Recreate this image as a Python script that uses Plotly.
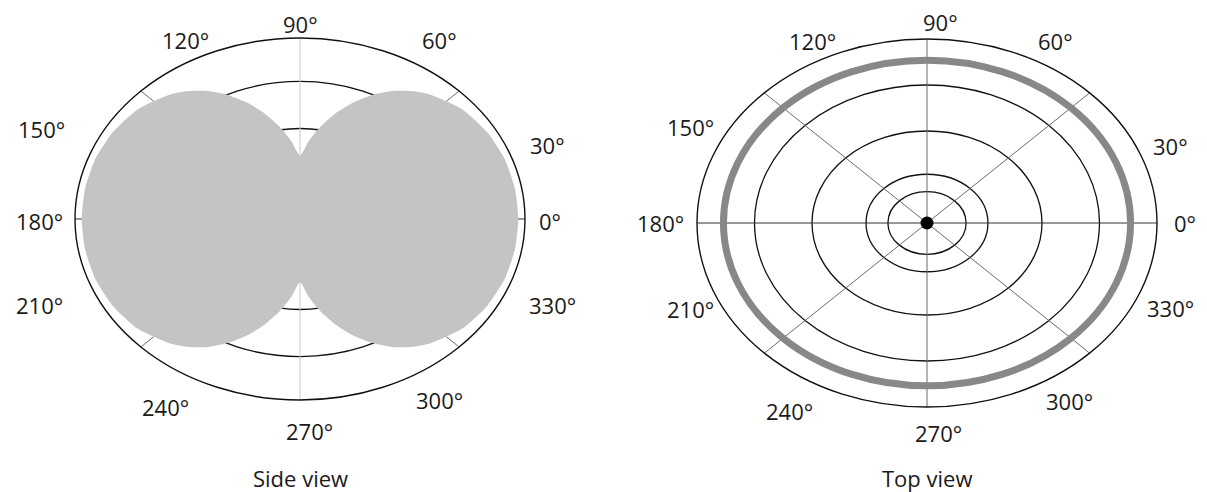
import numpy as np
import plotly.graph_objects as go

# window is 1207x492; the page body has an 8px margin, so the figure is inset by 8px
WIN_W, WIN_H, INSET = 1207, 492, 8
W, H = WIN_W - INSET, WIN_H - INSET

# ---------------- data ----------------
angle_ticks = [0, 30, 60, 90, 120, 150, 180, 210, 240, 270, 300, 330]
angle_text = ["0°", "30°", "60°", "90°", "120°", "150°", "180°", "210°", "240°", "270°", "300°", "330°"]

# side view radiation pattern (relative radius per angle)
side_theta = [0, 10, 20, 30, 40, 50, 55, 60, 65, 70, 75, 80, 85, 90,
              95, 100, 105, 110, 115, 120, 125, 130, 140, 150, 160, 170, 180,
              190, 200, 210, 220, 230, 235, 240, 245, 250, 255, 260, 265, 270,
              275, 280, 285, 290, 295, 300, 305, 310, 320, 330, 340, 350, 360]
side_r = [0.970, 0.970, 0.968, 0.960, 0.942, 0.898, 0.863, 0.816, 0.755, 0.683, 0.602, 0.516, 0.430, 0.350,
          0.430, 0.516, 0.602, 0.683, 0.755, 0.816, 0.863, 0.898, 0.942, 0.960, 0.968, 0.970, 0.970,
          0.970, 0.968, 0.960, 0.942, 0.898, 0.863, 0.816, 0.755, 0.683, 0.602, 0.516, 0.430, 0.350,
          0.430, 0.516, 0.602, 0.683, 0.755, 0.816, 0.863, 0.898, 0.942, 0.960, 0.968, 0.970, 0.970]

# grid rings
side_rings = [0.25, 0.5, 0.76]
top_rings = [0.17, 0.265, 0.5, 0.75]
top_pattern_r = 0.885          # thick gray ring (omnidirectional)
spoke_angles = [0, 45, 90, 135]

captions = ["Side view", "Top view"]

# ---------------- layout constants ----------------
FONT = "Open Sans"
panels = [
    dict(cx=300, cy=219, rx=225, ry=181, xa="x", ya="y", xr=1.25, yt=1.16, yb=1.45,
         labels={0: (1.11, -0.01), 30: (1.10, 0.41), 60: (0.62, 0.99), 90: (0.0, 1.08),
                 120: (-0.51, 0.99), 150: (-1.15, 0.50), 180: (-1.16, -0.01), 210: (-1.16, -0.475),
                 240: (-0.60, -1.04), 270: (0.04, -1.17), 300: (0.62, -1.0), 330: (1.12, -0.475)}),
    dict(cx=927, cy=223, rx=230, ry=184, xa="x2", ya="y2", xr=1.2, yt=1.16, yb=1.45,
         labels={0: (1.12, 0.0), 30: (1.06, 0.42), 60: (0.56, 0.99), 90: (0.06, 1.09),
                 120: (-0.50, 0.99), 150: (-1.03, 0.52), 180: (-1.16, 0.0), 210: (-1.03, -0.47),
                 240: (-0.60, -1.02), 270: (0.05, -1.14), 300: (0.62, -0.97), 330: (1.06, -0.46)}),
]
caption_y = 478

fig = go.Figure()
shapes, annotations = [], []
layout_axes = {}

for i, p in enumerate(panels):
    sfx = "" if i == 0 else "2"
    cx, cy = p["cx"] - INSET, p["cy"] - INSET
    xr, yt, yb = p["xr"], p["yt"], p["yb"]
    x0 = (cx - xr * p["rx"]) / W
    x1 = (cx + xr * p["rx"]) / W
    cyb = H - cy
    y0 = (cyb - yb * p["ry"]) / H
    y1 = (cyb + yt * p["ry"]) / H
    layout_axes["xaxis" + sfx] = dict(range=[-xr, xr], domain=[x0, x1], visible=False, fixedrange=True)
    layout_axes["yaxis" + sfx] = dict(range=[-yb, yt], domain=[y0, y1], visible=False, fixedrange=True)

    rings = side_rings if i == 0 else top_rings
    for r in rings:
        shapes.append(dict(type="circle", xref=p["xa"], yref=p["ya"], x0=-r, x1=r, y0=-r, y1=r,
                           line=dict(color="#111111", width=1.3), layer="below"))
    # spokes
    for a in spoke_angles:
        c, s = np.cos(np.radians(a)), np.sin(np.radians(a))
        if i == 0 and a == 90:
            col = "#c8c8c8"
        elif a == 0:
            col = "#333333"
        else:
            col = "#6a6a6a"
        shapes.append(dict(type="line", xref=p["xa"], yref=p["ya"], x0=-c, x1=c, y0=-s, y1=s,
                           line=dict(color=col, width=1), layer="below"))
    # outer ring
    shapes.append(dict(type="circle", xref=p["xa"], yref=p["ya"], x0=-1, x1=1, y0=-1, y1=1,
                       line=dict(color="#111111", width=1.4), layer="below"))
    if i == 1:
        shapes.append(dict(type="circle", xref=p["xa"], yref=p["ya"],
                           x0=-top_pattern_r, x1=top_pattern_r, y0=-top_pattern_r, y1=top_pattern_r,
                           line=dict(color="#888888", width=7), layer="below"))

    # angle labels
    for a, t in zip(angle_ticks, angle_text):
        u, v = p["labels"][a]
        annotations.append(dict(x=u, y=v, xref=p["xa"], yref=p["ya"], text=t, showarrow=False,
                                font=dict(family=FONT, size=22, color="#1a1a1a"),
                                xanchor="center", yanchor="middle", borderpad=0))
    annotations.append(dict(x=cx / W, y=(H - (caption_y - INSET)) / H, xref="paper", yref="paper",
                            text=captions[i], showarrow=False,
                            font=dict(family=FONT, size=22, color="#1a1a1a"),
                            xanchor="center", yanchor="middle", borderpad=0))

# side view lobes
th = np.radians(np.array(side_theta, dtype=float))
rr = np.array(side_r)
fig.add_trace(go.Scatter(x=rr * np.cos(th), y=rr * np.sin(th), mode="lines",
                         line=dict(color="#c4c4c4", width=0, shape="spline", smoothing=0.6),
                         fill="toself", fillcolor="#c4c4c4", xaxis="x", yaxis="y",
                         hoverinfo="skip", showlegend=False))
# top view: point source at the centre
fig.add_trace(go.Scatter(x=[0], y=[0], mode="markers", marker=dict(color="black", size=13),
                         xaxis="x2", yaxis="y2", hoverinfo="skip", showlegend=False))

fig.update_layout(width=W, height=H, margin=dict(l=0, r=0, t=0, b=0),
                  paper_bgcolor="white", plot_bgcolor="white",
                  shapes=shapes, annotations=annotations, showlegend=False, **layout_axes)
fig.write_html("out.html", config={"displayModeBar": False})
